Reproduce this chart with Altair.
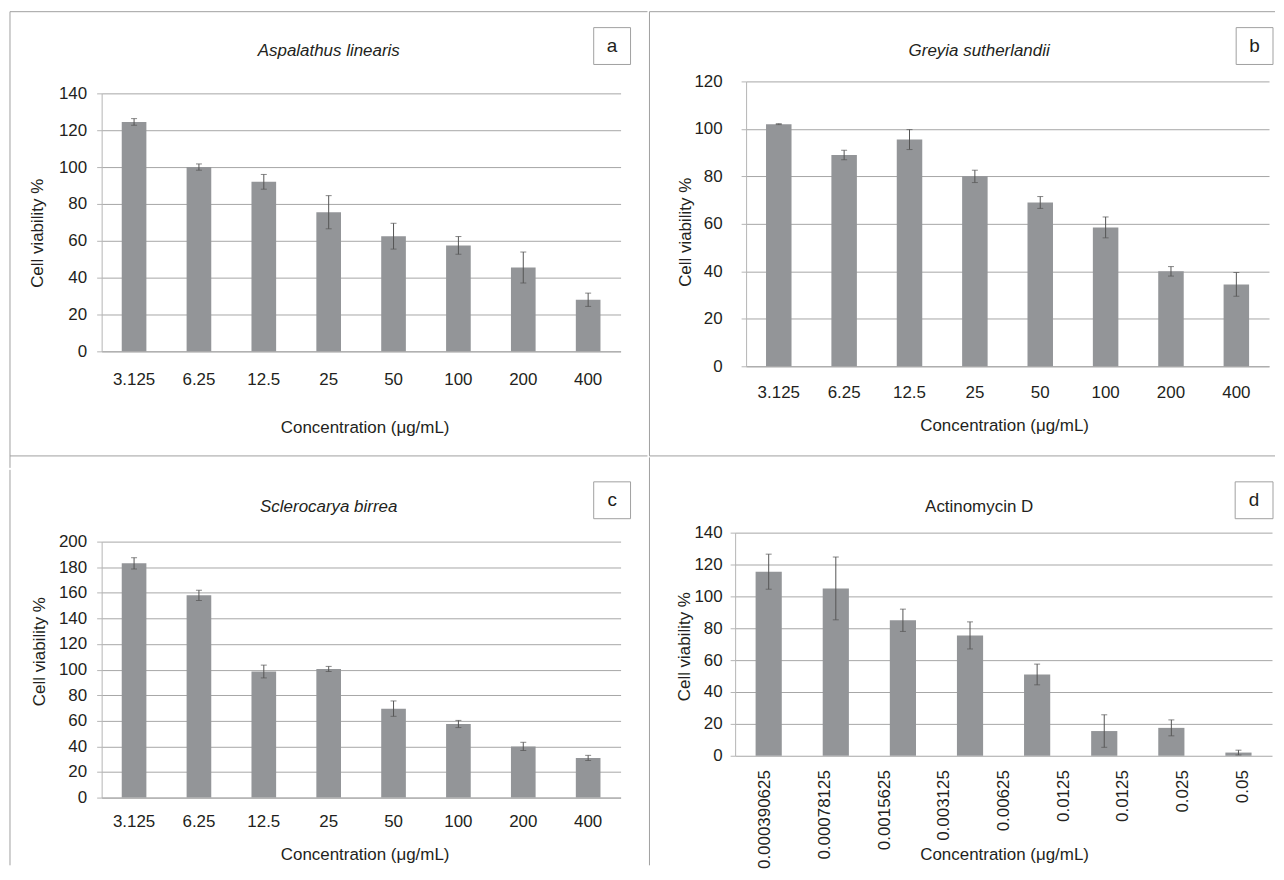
import altair as alt
import pandas as pd

# ---------------- data ----------------
conc = ["3.125", "6.25", "12.5", "25", "50", "100", "200", "400"]

a_mean = [124.5, 100.0, 92.0, 75.5, 62.5, 57.5, 45.5, 28.0]
a_err = [1.8, 1.7, 4.0, 9.0, 7.0, 4.8, 8.4, 3.6]

b_mean = [102.0, 89.0, 95.5, 80.0, 69.0, 58.5, 40.0, 34.5]
b_err = [0.2, 2.0, 4.2, 2.6, 2.5, 4.4, 2.0, 5.0]

c_mean = [183.0, 158.0, 98.5, 100.5, 69.5, 57.5, 40.0, 31.0]
c_err = [4.4, 4.0, 5.0, 2.0, 6.0, 2.8, 3.2, 2.0]

d_conc = ["0.000390625", "0.00078125", "0.0015625", "0.003125",
          "0.00625", "0.0125", "0.025", "0.05"]
d_mean = [115.5, 105.0, 85.0, 75.5, 51.0, 15.5, 17.5, 2.0]
d_err = [11.0, 19.7, 7.0, 8.5, 6.5, 10.2, 5.0, 1.5]
d_labels = ["0.000390625", "0.00078125", "0.0015625", "0.003125", "0.00625",
            "0.0125", "0.0125", "0.025", "0.05"]

titles = ["Aspalathus linearis", "Greyia sutherlandii", "Sclerocarya birrea", "Actinomycin D"]
letters = ["a", "b", "c", "d"]
y_max = [140, 120, 200, 140]
x_title = "Concentration (\u03bcg/mL)"
y_title = "Cell viability %"

# ---------------- style ----------------
FONT = "Liberation Sans, Arial, sans-serif"
FS = 17
TXT = "#231f20"
BAR = "#939598"
ERR = "#555555"
GRID = "#a6a6a6"
FRAME = "#a0a0a0"

# geometry of each panel, relative to its plot origin
geo = [
    dict(w=521, h=259, pad=0.62, ylp=10, ytx=-64, yty=140, xlp=20, xtx=264, xty=76,
         tx=228, ty=-43, box=(494, 531, -66, -29),
         lines=[(-92, 548, -82, -82), (-92, -92, -82, 376), (-92, 548, 364, 364)]),
    dict(w=525, h=286, pad=0.61, ylp=19, ytx=-61, yty=151, xlp=18, xtx=259, xty=59,
         tx=234, ty=-31, box=(492, 529, -54, -17),
         lines=[(-97, 531, -70, -70), (-97, -97, -70, 376), (-97, 531, 376, 376)]),
    dict(w=521, h=257, pad=0.62, ylp=10, ytx=-62, yty=110, xlp=16, xtx=264, xty=57,
         tx=228, ty=-35, box=(494, 531, -60, -23),
         lines=[(-92, -92, -72, 325)]),
    dict(w=539, h=224, pad=0.61, ylp=8, ytx=-51, yty=114, xlp=14, xtx=270, xty=99,
         tx=245, ty=-26, box=(502, 540, -51, -14),
         lines=[(-86, -86, -75.5, 334)]),
]


def decorations(g, title, italic, letter):
    one_t = pd.DataFrame({"t": [title]})
    one_l = pd.DataFrame({"t": [letter]})
    out = []
    for (x1, x2, y1, y2) in g["lines"]:
        if y1 == y2:
            enc = dict(x=alt.value(x1), x2=alt.value(x2), y=alt.value(y1))
        else:
            enc = dict(x=alt.value(x1), y=alt.value(y1), y2=alt.value(y2))
        out.append(alt.Chart(one_t).mark_rule(color=FRAME, strokeWidth=1).encode(**enc))
    bx1, bx2, by1, by2 = g["box"]
    ttl = alt.Chart(one_t).mark_text(
        font=FONT, fontSize=FS, fontStyle="italic" if italic else "normal", color=TXT
    ).encode(x=alt.value(g["tx"]), y=alt.value(g["ty"]), text="t:N")
    box = alt.Chart(one_l).mark_rect(fill="white", stroke=FRAME, strokeWidth=1).encode(
        x=alt.value(bx1), x2=alt.value(bx2), y=alt.value(by1), y2=alt.value(by2))
    let = alt.Chart(one_l).mark_text(font=FONT, fontSize=FS + 2, color=TXT).encode(
        x=alt.value((bx1 + bx2) / 2), y=alt.value((by1 + by2) / 2), text="t:N")
    return out + [ttl, box, let]


def panel(cats, mean, err, ymax, g, title, italic, letter, labels=None):
    df = pd.DataFrame({"conc": cats, "mean": mean, "err": err})
    df["lo"] = df["mean"] - df["err"]
    df["hi"] = df["mean"] + df["err"]
    base = alt.Chart(df)

    if labels is None:
        xaxis = alt.Axis(labelAngle=0, ticks=False, domain=True, domainColor=GRID,
                         labelFont=FONT, labelFontSize=FS, labelColor=TXT,
                         labelPadding=g["xlp"], title=x_title, titleFont=FONT,
                         titleFontSize=FS, titleFontWeight="normal", titleColor=TXT,
                         titleX=g["xtx"], titleY=g["xty"], titleBaseline="middle",
                         titleAlign="center")
    else:
        xaxis = None
    xscale = alt.Scale(paddingInner=g["pad"], paddingOuter=g["pad"] / 2)
    x = alt.X("conc:N", sort=cats, scale=xscale, axis=xaxis)

    vals = list(range(0, ymax + 1, 20))
    yaxis = alt.Axis(values=vals, tickCount=len(vals), labelOverlap=False,
                     grid=True, gridColor=GRID,
                     domain=True, domainColor="#b4b4b4", ticks=True, tickSize=5,
                     tickColor="#b4b4b4", labelFont=FONT, labelFontSize=FS,
                     labelColor=TXT, labelPadding=g["ylp"], title=y_title,
                     titleFont=FONT, titleFontSize=FS, titleFontWeight="normal",
                     titleColor=TXT, titleX=g["ytx"], titleY=g["yty"],
                     titleBaseline="middle", titleAlign="center", titleAngle=-90)
    yscale = alt.Scale(domain=[0, ymax], nice=False)
    y = alt.Y("mean:Q", scale=yscale, axis=yaxis)
    ylo = alt.Y("lo:Q", scale=yscale, axis=yaxis)
    yhi = alt.Y("hi:Q", scale=yscale, axis=yaxis)

    bars = base.mark_bar(color=BAR).encode(x=x, y=y)
    rule = base.mark_rule(color=ERR, strokeWidth=1).encode(x=x, y=ylo, y2="hi:Q")
    cap_lo = base.mark_tick(color=ERR, thickness=1, size=6).encode(x=x, y=ylo)
    cap_hi = base.mark_tick(color=ERR, thickness=1, size=6).encode(x=x, y=yhi)

    data_layer = alt.layer(bars, rule, cap_lo, cap_hi)
    decos = decorations(g, title, italic, letter)

    if labels is not None:
        lab_df = pd.DataFrame({"idx": list(range(len(labels))), "lab": labels})
        expr = "[" + ",".join("'" + s + "'" for s in labels) + "][datum.value]"
        lab_layer = alt.Chart(lab_df).mark_point(opacity=0, size=1).encode(
            x=alt.X("idx:O", scale=alt.Scale(type="point", padding=0.5),
                    axis=alt.Axis(orient="bottom", labelExpr=expr, labelAngle=-90,
                                  ticks=False, domain=False, labelFont=FONT,
                                  labelFontSize=FS, labelColor=TXT,
                                  labelPadding=g["xlp"], labelLimit=300,
                                  labelOverlap=False,
                                  title=x_title, titleFont=FONT, titleFontSize=FS,
                                  titleFontWeight="normal", titleColor=TXT,
                                  titleX=g["xtx"], titleY=g["xty"],
                                  titleBaseline="middle", titleAlign="center")),
            y=alt.value(0))
        ch = alt.layer(*decos, data_layer, lab_layer).resolve_scale(x="independent")
    else:
        ch = alt.layer(*decos, data_layer)
    return ch.properties(width=g["w"], height=g["h"])


def spacer():
    return alt.Chart(pd.DataFrame({"t": [0]})).mark_point(opacity=0, size=0).encode(
        x=alt.value(0), y=alt.value(0)).properties(width=1, height=1)


pa = panel(conc, a_mean, a_err, y_max[0], geo[0], titles[0], True, letters[0])
pb = panel(conc, b_mean, b_err, y_max[1], geo[1], titles[1], True, letters[1])
pc = panel(conc, c_mean, c_err, y_max[2], geo[2], titles[2], True, letters[2])
pdd = panel(d_conc, d_mean, d_err, y_max[3], geo[3], titles[3], False, letters[3], labels=d_labels)

chart = alt.concat(spacer(), spacer(), pa, pb, pc, pdd, columns=2, spacing=0).properties(
    align="none", bounds="full",
    padding={"left": 1, "top": 0, "right": 0, "bottom": 0},
    background="white",
).configure_view(stroke=None)

chart.save("out.html", embed_options={"renderer": "svg", "actions": False})
